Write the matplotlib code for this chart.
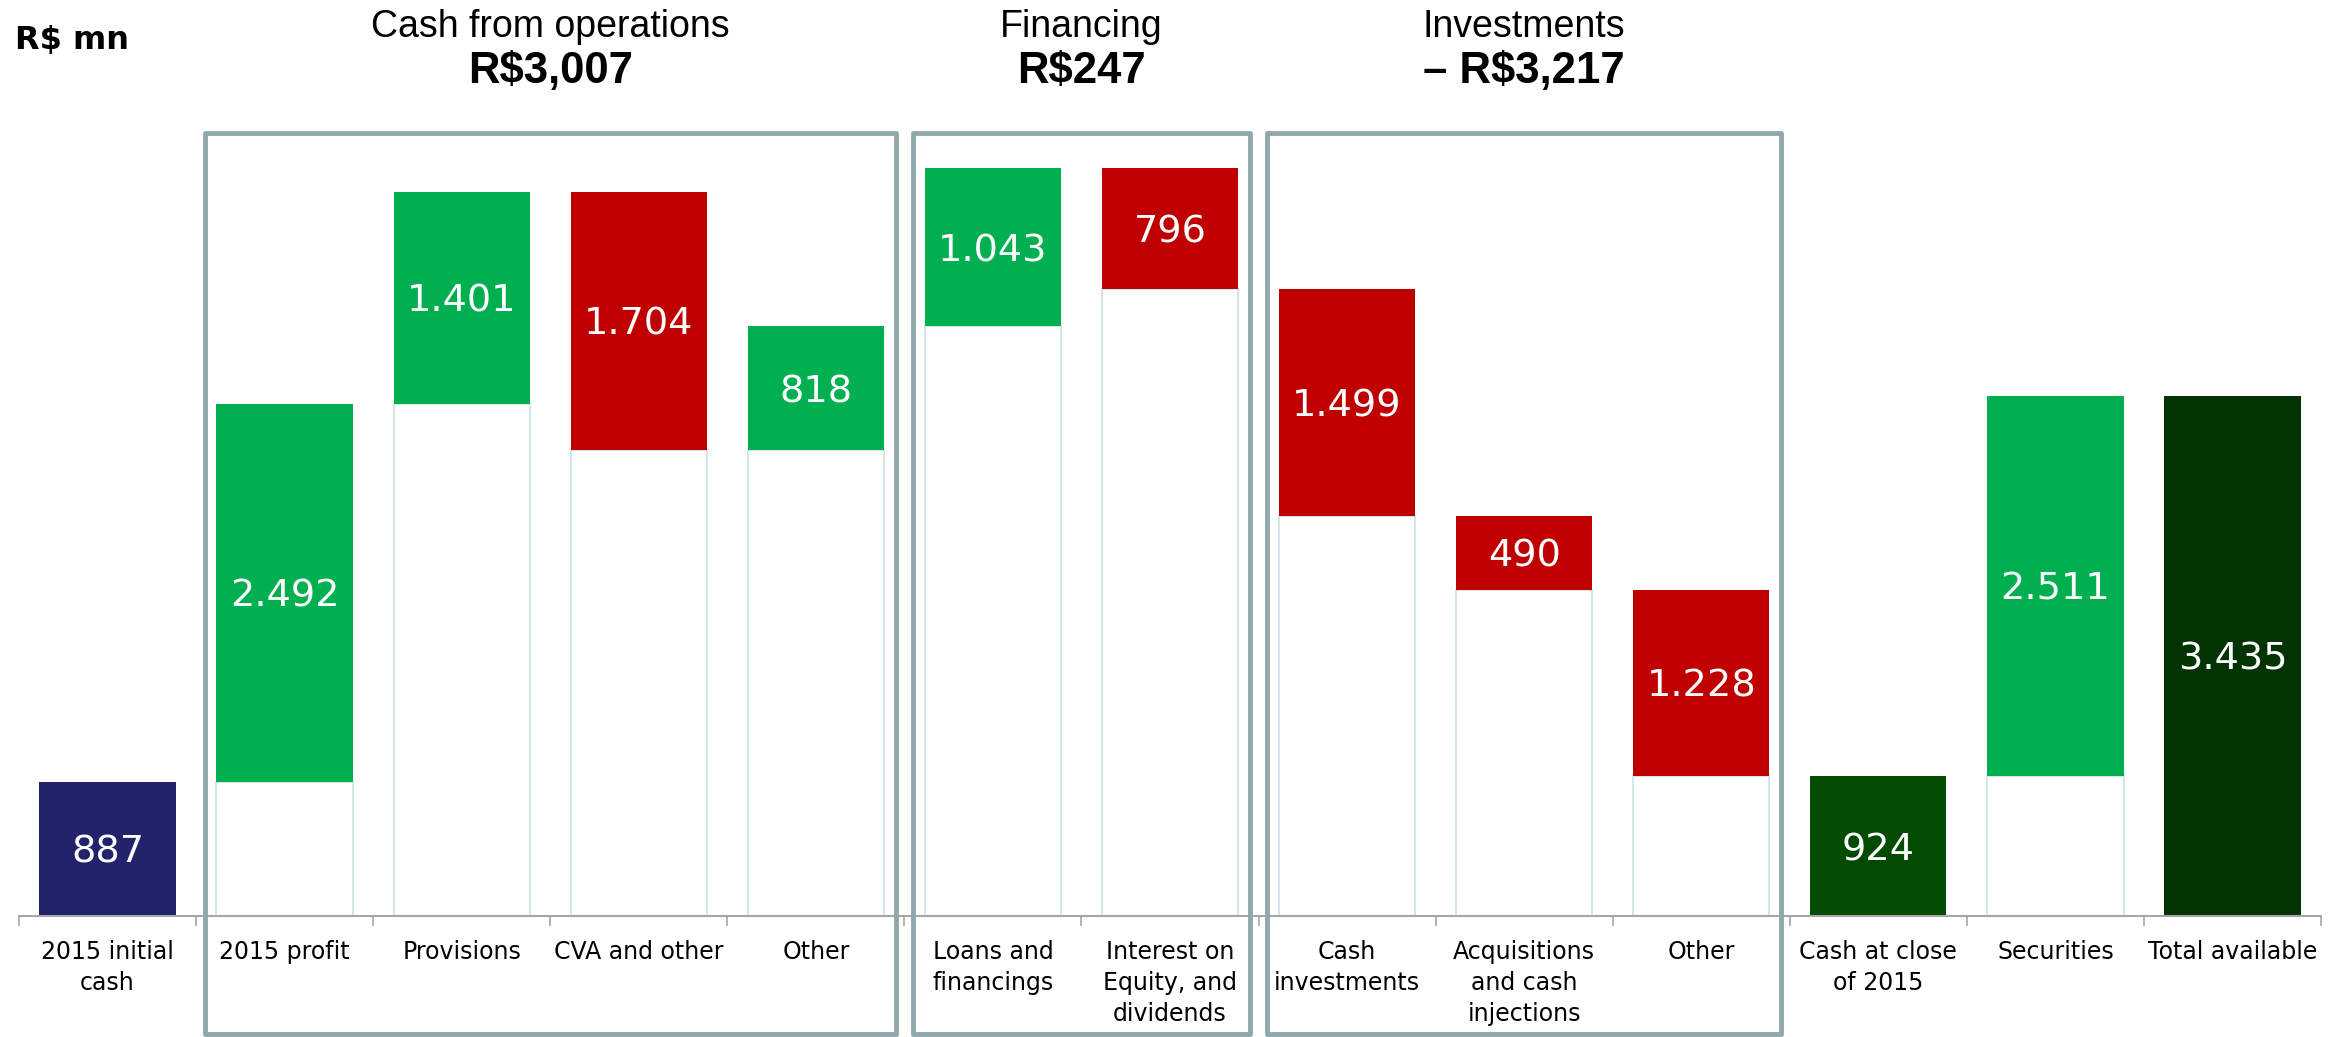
import numpy as np
import matplotlib.pyplot as plt
from matplotlib.patches import Rectangle
from matplotlib.transforms import blended_transform_factory

W, H = 2346, 1037

categories = ['2015 initial\ncash', '2015 profit', 'Provisions', 'CVA and other', 'Other',
              'Loans and\nfinancings', 'Interest on\nEquity, and\ndividends',
              'Cash\ninvestments', 'Acquisitions\nand cash\ninjections', 'Other',
              'Cash at close\nof 2015', 'Securities', 'Total available']
values = [887, 2492, 1401, -1704, 818, 1043, -796, -1499, -490, -1228, 924, 2511, 3435]
kinds = ['total', 'step', 'step', 'step', 'step', 'step', 'step',
         'step', 'step', 'step', 'total', 'step', 'total']
colors = ['#23236B', '#00B050', '#00B050', '#C00000', '#00B050', '#00B050', '#C00000',
          '#C00000', '#C00000', '#C00000', '#034A03', '#00B050', '#023302']

group_titles = ['Cash from operations', 'Financing', 'Investments']
group_totals = ['R$3,007', 'R$247', '– R$3,217']
group_first = [1, 5, 7]
group_last = [4, 6, 9]

# waterfall bottoms / heights
bottoms, heights = [], []
running = 0
for v, k in zip(values, kinds):
    if k == 'total':
        bottoms.append(0)
        heights.append(v)
        running = v
    else:
        bottoms.append(min(running, running + v))
        heights.append(abs(v))
        running += v

fig = plt.figure(figsize=(W / 100, H / 100), dpi=100)
ax = fig.add_axes([19 / W, 1 - 916 / H, (2321 - 19) / W, (916 - 130) / H])
x = np.arange(len(categories))
bw = 0.77

# invisible base bars (white with light outline)
for i, k in enumerate(kinds):
    if k == 'step' and bottoms[i] > 0:
        ax.bar(x[i], bottoms[i], width=bw, color='white', edgecolor='#D5E6EA', lw=1.5, zorder=1)

ax.bar(x, heights, bottom=bottoms, width=bw, color=colors, zorder=2)

for i in range(len(values)):
    lab = f'{abs(values[i]):,}'.replace(',', '.')
    ax.text(x[i], bottoms[i] + heights[i] / 2, lab, ha='center', va='center_baseline',
            color='white', fontsize=27.5, zorder=3)

ax.set_xlim(-0.5, len(categories) - 0.5)
ax.set_ylim(0, 786 / 0.1515)
for s in ['top', 'left', 'right']:
    ax.spines[s].set_visible(False)
ax.spines['bottom'].set_color('#A6A6A6')
ax.spines['bottom'].set_linewidth(1.5)
ax.set_yticks([])
ax.set_xticks(x)
ax.set_xticklabels(categories, fontsize=17, linespacing=1.38)
ax.tick_params(axis='x', which='major', length=0, pad=17)
ax.set_xticks(np.arange(-0.5, len(categories)), minor=True)
ax.tick_params(axis='x', which='minor', length=7, width=1.2, color='#A6A6A6', direction='out')

# group boxes and headers
tr = blended_transform_factory(ax.transData, fig.transFigure)
for t, tot, a, b in zip(group_titles, group_totals, group_first, group_last):
    x0, x1 = a - 0.45, b + 0.45
    y0, y1 = 1 - 1034 / H, 1 - 133 / H
    fig.patches.append(Rectangle((x0, y0), x1 - x0, y1 - y0, transform=tr, fill=False,
                                 edgecolor='#8FA8AB', lw=3.5, joinstyle='round', clip_on=False))
    xc = (a + b) / 2
    fig.text(xc, 1 - 27 / H, t, transform=tr, ha='center', va='center', fontsize=27,
             family=['Liberation Sans Narrow', 'Liberation Sans'])
    fig.text(xc, 1 - 72 / H, tot, transform=tr, ha='center', va='center', fontsize=31.5,
             fontweight='bold', family=['Liberation Sans Narrow', 'Liberation Sans'])

fig.text(15 / W, 1 - 40 / H, 'R$ mn', ha='left', va='center', fontsize=23, fontweight='bold')

fig.savefig('out.png', dpi=100, facecolor='white')
